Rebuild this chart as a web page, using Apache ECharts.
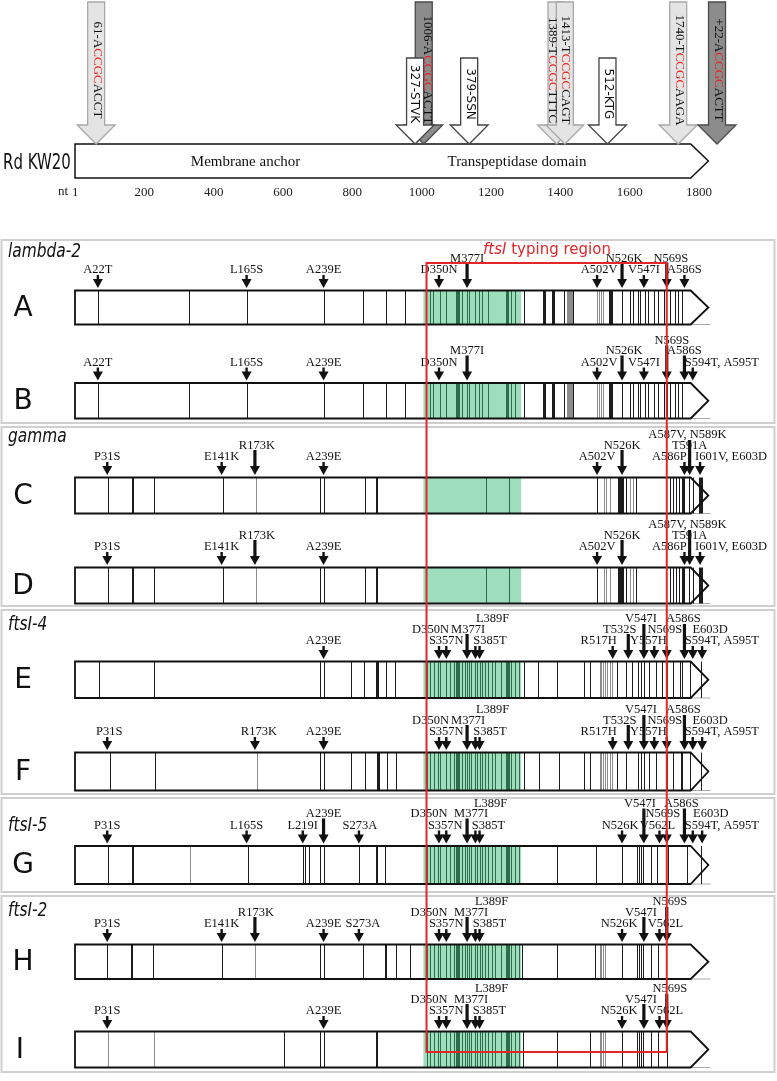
<!DOCTYPE html>
<html><head><meta charset="utf-8">
<script src="https://cdn.jsdelivr.net/npm/echarts@6/dist/echarts.min.js"></script>
<style>html,body{margin:0;padding:0;background:#fff}#c{width:777px;height:1081px}</style>
</head><body><div id="c"></div>
<script>
// ================= DATA =================
const ntTicks = [1, 200, 400, 600, 800, 1000, 1200, 1400, 1600, 1800];
const bodyEndAA = 592, tipAA = 609;            // ftsI protein drawn as arrow (610 codons)
const domainNames = ['Membrane anchor', 'Transpeptidase domain'];
const domainCenterAA = [164, 425];
const typingRegionAA = [338, 569];
const greenRegionAA = [335, 429];

// Rd KW20 reference features (nt)
const siteNames = ['61', '1006', '1389', '1413', '1740', '+22'];
const siteNt    = [61, 1006, 1389, 1413, 1740, 1852];
const sitePre   = ['A', 'A', 'T', 'T', 'T', 'A'];
const siteCore  = ['CCGC', 'CCGC', 'CCGC', 'CCGC', 'CCGC', 'CCGC'];
const sitePost  = ['ACCT', 'ACTT', 'TTTC', 'CAGT', 'AAGA', 'ACTT'];
const motifLabels = ['327-STVK', '379-SSN', '512-KTG'];

const groupNames = ['lambda-2', 'gamma', 'ftsI-4', 'ftsI-5', 'ftsI-2'];
const rowNames = ['A', 'B', 'C', 'D', 'E', 'F', 'G', 'H', 'I'];

const mutA = ['A22T','L165S','A239E','D350N','M377I','A502V','N526K','V547I','N569S','A586S'];
const mutB = ['A22T','L165S','A239E','D350N','M377I','A502V','N526K','V547I','N569S','A586S','S594T, A595T'];
const mutC = ['P31S','E141K','R173K','A239E','A502V','N526K','A586P','A587V, N589K','T591A','I601V, E603D'];
const mutD = ['P31S','E141K','R173K','A239E','A502V','N526K','A586P','A587V, N589K','T591A','I601V, E603D'];
const mutE = ['A239E','D350N','S357N','M377I','S385T','L389F','R517H','T532S','V547I','Y557H','N569S','A586S','S594T, A595T','E603D'];
const mutF = ['P31S','R173K','A239E','D350N','S357N','M377I','S385T','L389F','R517H','T532S','V547I','Y557H','N569S','A586S','S594T, A595T','E603D'];
const mutG = ['P31S','L165S','L219I','A239E','S273A','D350N','S357N','M377I','S385T','L389F','N526K','V547I','V562L','N569S','A586S','S594T, A595T','E603D'];
const mutH = ['P31S','E141K','R173K','A239E','S273A','D350N','S357N','M377I','S385T','L389F','N526K','V547I','V562L','N569S'];
const mutI = ['P31S','A239E','D350N','S357N','M377I','S385T','L389F','N526K','V547I','V562L','N569S'];

// polymorphic codon positions (black = non-synonymous, gray = synonymous)
const greenSitesA = [341,344,351,357,366,367,368,369,372,377,379,385,388,391,397,414,415,416,419,423];
const greenSitesE = [338,341,345,349,351,357,361,364,366,367,368,369,372,375,377,379,381,385,387,389,391,394,397,401,404,410,414,415,416,417,419,423,427];
const blackA = [22,110,165,239,277,299,317,432,450,451,452,459,460,461,470,479,513,514,515,516,526,534,537,541,543,548,551,557,561,566,572,577,580,584];
const grayA  = [473,474,475,476,477,478,502,504,506,508];
const blackB = [22,110,165,239,277,299,317,432,450,451,452,459,460,461,470,479,513,514,515,516,526,534,537,541,543,548,551,557,561,566,569,572,577,580,584];
const grayB  = [473,474,475,476,477,478,502,504,506,508];
const blackC = [32,55,56,76,142,236,239,279,289,290,395,417,502,522,523,524,525,526,527,530,539,572,575,578,581,584,585,586,590,594,600,601,602,603];
const grayC  = [174,509,511,514,534,537];
const blackD = [32,55,56,76,142,236,239,279,289,290,395,417,502,522,523,524,525,526,527,530,539,572,575,578,581,584,585,586,590,594,600,601,602,603];
const grayD  = [174,509,511,514,534,537];
const blackE = [23,76,236,239,265,278,289,290,291,299,308,432,445,463,489,495,521,530,536,541,544,547,552,559,564,569,575,582,584,591,602];
const grayE  = [505,506,508,510,512,514,516];
const blackF = [34,77,236,239,265,279,290,291,292,300,309,432,446,465,489,495,521,530,541,544,547,552,559,569,575,583,584,591,602];
const grayF  = [175,505,506,508,510,512,514,516];
const blackG = [32,55,56,166,219,221,225,236,239,273,289,290,298,463,501,526,540,542,544,546,554,560,570,588,602];
const grayG  = [111];
const blackH = [31,54,55,75,141,236,239,277,298,299,309,322,430,463,500,526,540,542,544,546,554,561,568];
const grayH  = [173,505,506,508,510];
const blackI = [201,236,239,289,290,431,463,495,526,540,542,544,546,554,561,569];
const grayI  = [32,76,505,506,508,510];

// ================= LAYOUT / STYLE =================
const X_LEFT = 75, PX_PER_AA = 1.04, AA_MAX = 670;
const GRID_W = AA_MAX * PX_PER_AA;
const rowBox = { A:[290.5,34], B:[383,35.5], C:[477.5,36], D:[567.5,36], E:[661.5,36.5], F:[752.5,38], G:[846,38], H:[944.5,34.5], I:[1031.5,36] };
const groupBox = [[240,423],[427,606],[610,794],[798,892],[896,1072]];
const groupLabelY = [252, 437, 625, 826, 911];
const LBL_OFF = [20.5, 32, 42.5];
const SHAFT_TOP = [15.5, 27.5, 37.5];
const topTextDx = {'1006': 3, '327-STVK': -2, '1389': -5, '1413': 0};
// per-label placement: [labelLevel, arrowLevel, labelDx(px)]
const layA = {'M377I':[1,1,0],'N526K':[1,1,2],'N569S':[1,1,4],'A502V':[0,0,2]};
const layB = {'M377I':[1,1,0],'N526K':[1,1,2],'N569S':[2,2,5],'A586S':[1,1,0],'S594T, A595T':[0,0,29],'A502V':[0,0,2]};
const layC = {'R173K':[1,1,2],'N526K':[1,1,0],'A586P':[0,0,-15],'A587V, N589K':[2,-1,2],'T591A':[1,2,0],'I601V, E603D':[0,0,31]};
const layE = {'D350N':[1,0,-8.5],'M377I':[1,1,1],'S385T':[0,0,14.5],'L389F':[2,0,13],'R517H':[0,0,-14],'T532S':[1,1,-8.5],'V547I':[2,2,-3],'Y557H':[0,0,-6],'N569S':[1,0,-2],'A586S':[2,2,-1],'E603D':[1,0,8],'S594T, A595T':[0,0,29],'P31S':[0,0,2],'R173K':[0,0,4]};
const layG = {'A239E':[1,1,0],'S273A':[0,0,1],'D350N':[1,0,-10],'S357N':[0,0,-1],'M377I':[1,1,4],'S385T':[0,0,13],'L389F':[2,0,11],'N526K':[0,0,-2],'V547I':[2,2,-4],'V562L':[0,0,-2],'N569S':[1,0,-4],'A586S':[2,2,-3],'E603D':[1,0,8.6],'S594T, A595T':[0,0,29]};
const layH = {'R173K':[1,1,1],'S273A':[0,0,4],'D350N':[1,0,-10],'M377I':[1,1,4],'S385T':[0,0,14],'L389F':[2,0,12],'N526K':[0,0,-3],'V547I':[1,1,-3],'V562L':[0,0,6],'N569S':[2,2,3]};

const rowsCfg = [
  ['A', mutA, layA, blackA.concat(greenSitesA), grayA],
  ['B', mutB, layB, blackB.concat(greenSitesA), grayB],
  ['C', mutC, layC, blackC, grayC],
  ['D', mutD, layC, blackD, grayD],
  ['E', mutE, layE, blackE.concat(greenSitesE), grayE],
  ['F', mutF, layE, blackF.concat(greenSitesE), grayF],
  ['G', mutG, layG, blackG.concat(greenSitesE), grayG],
  ['H', mutH, layH, blackH.concat(greenSitesE), grayH],
  ['I', mutI, layH, blackI.concat(greenSitesE), grayI]
];

function mutPos(label){ return parseInt(label.match(/\d+/)[0], 10); }

const grids = [], xAxes = [], yAxes = [], series = [];
const SERIF = '"Liberation Serif", "Times New Roman", serif';

// ---- top reference grid (nt scale) ----
grids.push({left: X_LEFT, top: 144, width: GRID_W, height: 34});
xAxes.push({gridIndex: 0, type: 'value', min: 0, max: AA_MAX * 3,
  axisLine: {show: false}, axisTick: {show: false}, splitLine: {show: false},
  axisLabel: {customValues: ntTicks, margin: 8, fontFamily: SERIF, fontSize: 13, color: '#222',
    formatter: function(v){ return String(v); }}});
yAxes.push({gridIndex: 0, type: 'value', min: 0, max: 1, show: false});

series.push({type: 'custom', xAxisIndex: 0, yAxisIndex: 0, z: 4, silent: true, clip: false,
  data: [[0]],
  renderItem: function(params, api){
    const pts = [api.coord([0,1]), api.coord([bodyEndAA*3,1]), api.coord([tipAA*3,0.5]), api.coord([bodyEndAA*3,0]), api.coord([0,0])];
    return {type: 'polygon', shape: {points: pts}, style: {fill: '#fff', stroke: '#111', lineWidth: 1.5}};
  }});

// top markers: sites (shaded) and motifs (white)
const topMarks = [];
siteNames.forEach((n, i) => topMarks.push({key: n, nt: siteNt[i], kind: (sitePost[i] === 'ACTT') ? 'dark' : 'light',
  text: '{a|' + n + '-' + sitePre[i] + '}{r|' + siteCore[i] + '}{a|' + sitePost[i] + '}'}));
motifLabels.forEach(m => topMarks.push({key: m, nt: mutPos(m) * 3, kind: 'white', text: '{s|' + m + '}'}));
const ARROW_STYLE = {light: ['#e4e4e4', '#a8a8a8'], dark: ['#8c8c8c', '#4a4a4a'], white: ['#ffffff', '#444']};

series.push({type: 'custom', xAxisIndex: 0, yAxisIndex: 0, z: 5, silent: true, clip: false,
  data: topMarks.map(m => [m.nt, 1]),
  renderItem: function(params, api){
    const m = topMarks[params.dataIndex];
    const p = api.coord([m.nt, 1]);
    const x = p[0], tip = p[1];
    const top = m.kind === 'white' ? tip - 86 : tip - 142;
    const hTop = tip - 19, sw = 8.5, hw = 19;
    const st = ARROW_STYLE[m.kind];
    return {type: 'polygon', shape: {points: [[x-sw,top],[x+sw,top],[x+sw,hTop],[x+hw,hTop],[x,tip],[x-hw,hTop],[x-sw,hTop]]},
      style: {fill: st[0], stroke: st[1], lineWidth: 1.3}};
  }});
series.push({type: 'custom', xAxisIndex: 0, yAxisIndex: 0, z: 6, silent: true, clip: false,
  data: topMarks.map(m => [m.nt, 1]),
  renderItem: function(params, api){
    const m = topMarks[params.dataIndex];
    const p = api.coord([m.nt, 1]);
    const cy = m.kind === 'white' ? p[1] - 50 : p[1] - 74;
    const dx = topTextDx[m.key] || 0;
    return {type: 'text', x: p[0] + 1 + dx, y: cy, rotation: -Math.PI / 2,
      style: {text: m.text, align: 'center', verticalAlign: 'middle',
        rich: {a: {font: '13px ' + SERIF, fill: '#111'}, r: {font: '13px ' + SERIF, fill: '#e8211c'},
               s: {font: '12px "DejaVu Sans"', fill: '#111'}}}};
  }});

// ---- gene rows ----
rowsCfg.forEach((cfg, ri) => {
  const [name, muts, lay, blacks, grays] = cfg;
  const gi = ri + 1;
  const [top, h] = rowBox[name];
  grids.push({left: X_LEFT, top: top, width: GRID_W, height: h});
  xAxes.push({gridIndex: gi, type: 'value', min: 0, max: AA_MAX, show: false});
  yAxes.push({gridIndex: gi, type: 'value', min: 0, max: 1, show: false});
  const base = {type: 'custom', xAxisIndex: gi, yAxisIndex: gi, silent: true, clip: false};
  // fill + baseline
  series.push(Object.assign({}, base, {z: 1, data: [[0]], renderItem: function(params, api){
    const pts = [api.coord([0,1]), api.coord([bodyEndAA,1]), api.coord([tipAA,0.5]), api.coord([bodyEndAA,0]), api.coord([0,0])];
    const b0 = api.coord([bodyEndAA,0]), b1 = api.coord([611,0]);
    return {type: 'group', children: [
      {type: 'polygon', shape: {points: pts}, style: {fill: '#fff'}},
      {type: 'line', shape: {x1: b0[0], y1: b0[1], x2: b1[0], y2: b1[1]}, style: {stroke: '#aaa', lineWidth: 1}}
    ]};
  }}));
  // polymorphism lines
  const lineData = blacks.map(v => [v, 0]).concat(grays.map(v => [v, 1]));
  series.push(Object.assign({}, base, {z: 2, data: lineData, renderItem: function(params, api){
    const aa = api.value(0), g = api.value(1);
    const t = api.coord([aa, 1]), b = api.coord([aa, 0]);
    const x = Math.round(t[0]) + 0.5;
    return {type: 'line', shape: {x1: x, y1: t[1], x2: x, y2: b[1]}, style: {stroke: g ? '#8c8c8c' : '#1c1c1c', lineWidth: 1}};
  }}));
  // green region overlay
  series.push(Object.assign({}, base, {z: 3, data: [greenRegionAA], renderItem: function(params, api){
    const a = api.coord([api.value(0), 1]), b = api.coord([api.value(1), 0]);
    return {type: 'rect', shape: {x: a[0], y: a[1], width: b[0]-a[0], height: b[1]-a[1]}, style: {fill: 'rgba(63,190,121,0.5)'}};
  }}));
  // outline
  series.push(Object.assign({}, base, {z: 4, data: [[0]], renderItem: function(params, api){
    const pts = [api.coord([0,1]), api.coord([bodyEndAA,1]), api.coord([tipAA,0.5]), api.coord([bodyEndAA,0]), api.coord([0,0])];
    return {type: 'polygon', shape: {points: pts}, style: {fill: 'none', stroke: '#111', lineWidth: 1.8}};
  }}));
  // substitution arrows + labels
  series.push(Object.assign({}, base, {z: 5, data: muts.map(m => [mutPos(m), 1]), renderItem: function(params, api){
    const lab = muts[params.dataIndex];
    const L = lay[lab] || [0, 0, 0];
    const p = api.coord([mutPos(lab), 1]);
    const x = p[0], bt = p[1];
    const ch = [];
    if (L[1] >= 0) {
      const sw = L[1] > 0 ? 3.2 : 2.4;
      ch.push({type: 'rect', shape: {x: x - sw/2, y: bt - SHAFT_TOP[L[1]], width: sw, height: SHAFT_TOP[L[1]] - 10}, style: {fill: '#111'}});
      ch.push({type: 'polygon', shape: {points: [[x-5, bt-11.5], [x+5, bt-11.5], [x, bt-2.5]]}, style: {fill: '#111'}});
    }
    ch.push({type: 'text', style: {text: lab, x: x + L[2], y: bt - LBL_OFF[L[0]], align: 'center', verticalAlign: 'middle',
      font: '12.5px ' + SERIF, fill: '#111'}});
    return {type: 'group', children: ch};
  }}));
});

// ---- typing region box ----
const ogi = grids.length;
grids.push({left: X_LEFT, top: 263, width: GRID_W, height: 789});
xAxes.push({gridIndex: ogi, type: 'value', min: 0, max: AA_MAX, show: false});
yAxes.push({gridIndex: ogi, type: 'value', min: 0, max: 1, show: false});
series.push({type: 'custom', xAxisIndex: ogi, yAxisIndex: ogi, z: 7, silent: true, clip: false, data: [typingRegionAA],
  renderItem: function(params, api){
    const a = api.coord([api.value(0), 1]), b = api.coord([api.value(1), 0]);
    return {type: 'rect', shape: {x: a[0], y: a[1], width: b[0]-a[0], height: b[1]-a[1]}, style: {fill: 'none', stroke: '#e3262a', lineWidth: 2}};
  }});

// ---- decorations / text ----
const graphic = [];
groupBox.forEach((b, i) => {
  graphic.push({type: 'rect', shape: {x: 1.5, y: b[0], width: 773, height: b[1]-b[0]}, style: {fill: 'none', stroke: '#cfcfcf', lineWidth: 2}, z: 0});
  graphic.push({type: 'text', x: 8, y: groupLabelY[i], scaleX: 0.77,
    style: {text: groupNames[i], font: 'italic 20px "DejaVu Sans"', fill: '#111', align: 'left', verticalAlign: 'middle'}});
});
rowNames.forEach(n => {
  const [top, h] = rowBox[n];
  graphic.push({type: 'text', x: n === 'I' ? 20 : 23, y: top + h/2 + 1,
    style: {text: n, font: '28px "DejaVu Sans"', fill: '#111', align: 'center', verticalAlign: 'middle'}});
});
graphic.push({type: 'text', x: 3, y: 163, scaleX: 0.68,
  style: {text: 'Rd KW20', font: '22px "DejaVu Sans"', fill: '#111', align: 'left', verticalAlign: 'middle'}});
domainNames.forEach((d, i) => {
  graphic.push({type: 'text', x: X_LEFT + domainCenterAA[i] * PX_PER_AA, y: 162, z: 10,
    style: {text: d, font: '15px ' + SERIF, fill: '#111', align: 'center', verticalAlign: 'middle'}});
});
graphic.push({type: 'text', x: 63, y: 192,
  style: {text: 'nt', font: '13px ' + SERIF, fill: '#222', align: 'center', verticalAlign: 'middle'}});
graphic.push({type: 'text', x: 547, y: 250,
  style: {text: '{i|ftsI}{n| typing region}', align: 'center', verticalAlign: 'middle',
    rich: {i: {font: 'italic 15px "DejaVu Sans"', fill: '#e3262a'}, n: {font: '15px "DejaVu Sans"', fill: '#e3262a'}}}});

const chart = echarts.init(document.getElementById('c'), null, {renderer: 'canvas'});
chart.setOption({
  backgroundColor: '#fff',
  animation: false,
  grid: grids, xAxis: xAxes, yAxis: yAxes,
  series: series,
  graphic: graphic
});
</script>
</body></html>
